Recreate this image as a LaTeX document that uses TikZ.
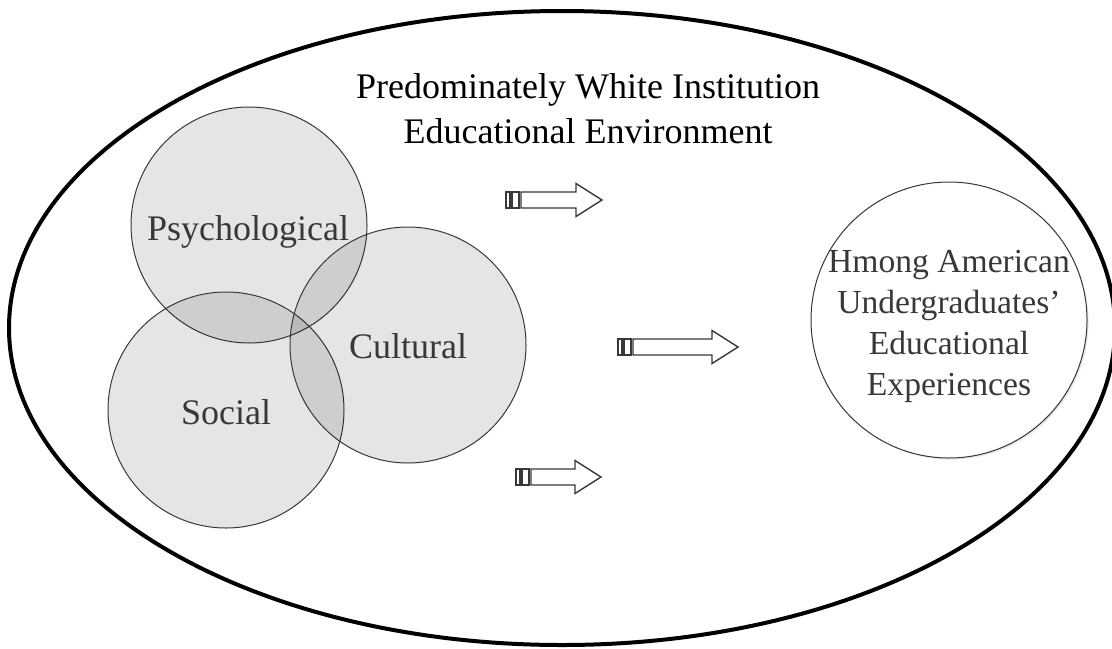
\documentclass[tikz,border=0pt]{standalone}
\usepackage{fontspec}
\setmainfont{Liberation Serif}
\usetikzlibrary{shadows}
\definecolor{inkgray}{HTML}{383838}
\tikzset{
  factor/.style={circle, draw=inkgray, line width=0.5pt, fill=black, fill opacity=0.1,
    text opacity=1, text=inkgray, minimum size=118pt, inner sep=0pt},
  factorlbl/.style={anchor=base, text=inkgray, font=\fontsize{18}{22}\selectfont},
  outcome/.style={circle, draw=inkgray, line width=0.5pt, fill=white, minimum size=138pt,
    inner sep=0pt, drop shadow={opacity=0.18, shadow xshift=0.8pt, shadow yshift=-0.8pt}},
  arrowline/.style={draw=inkgray, line width=0.7pt, fill=white, line join=miter},
  pics/intake/.style={code={
    \draw[arrowline] (0,-8) rectangle (4,8);
    \draw[arrowline] (6,-8) rectangle (13,8);
    \draw[arrowline] (15,-8) -- (#1-26,-8) -- (#1-26,-16.5) -- (#1,0)
      -- (#1-26,16.5) -- (#1-26,8) -- (15,8) -- cycle;
  }}
}
\begin{document}
\begin{tikzpicture}[x=0.5pt,y=-0.5pt]
  \useasboundingbox (0,0) rectangle (1112,648);
  % environment
  \draw[line width=2pt] (562,328) ellipse [x radius=276.5pt, y radius=158.5pt];
  % base anchor sits on the last line
  \node[align=center, anchor=base, font=\fontsize{18}{22.5}\selectfont] (title) at (588,143)
    {Predominately White Institution\\Educational Environment};
  % overlapping factors
  \node[factor] (psych) at (249,225) {};
  \node[factor] (social) at (226,410) {};
  \node[factor] (cultural) at (408,345) {};
  \node[factorlbl] (psychlbl) at (248,240) {Psychological};
  \node[factorlbl] (culturallbl) at (408,358) {Cultural};
  \node[factorlbl] (sociallbl) at (226,424) {Social};
  % arrows
  \pic at (506,200) {intake=96};
  \pic at (618,347) {intake=120};
  \pic at (516,477) {intake=85};
  % outcome
  \node[outcome] (hmong) at (949,320) {};
  \node[align=center, anchor=base, text=inkgray, font=\fontsize{16.8}{20.5}\selectfont]
    (hmonglbl) at (949,395) {Hmong American\\Undergraduates'\\Educational\\Experiences};
\end{tikzpicture}
\end{document}
